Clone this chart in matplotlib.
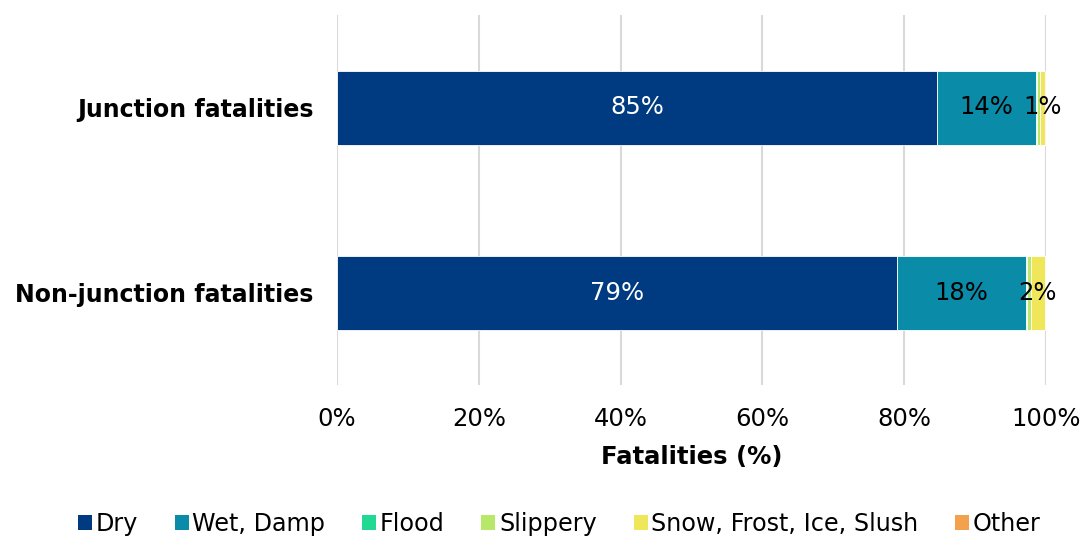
import matplotlib
matplotlib.use("Agg")
import matplotlib.pyplot as plt
from matplotlib.patches import Patch

categories = ["Junction fatalities", "Non-junction fatalities"]
series = ["Dry", "Wet, Damp", "Flood", "Slippery", "Snow, Frost, Ice, Slush", "Other"]
colors = ["#003A80", "#0A8BA8", "#22D994", "#B8E86A", "#F0E65A", "#F4A14E"]

dry = [84.6, 79.0]
wet = [14.0, 18.2]
flood = [0.1, 0.1]
slippery = [0.4, 0.6]
snow = [0.7, 1.9]
other = [0.2, 0.2]
values = [dry, wet, flood, slippery, snow, other]

# text labels shown on the bars (series index, category index, text)
labels = [(0, 0, "85%"), (1, 0, "14%"), (4, 0, "1%"),
          (0, 1, "79%"), (1, 1, "18%"), (4, 1, "2%")]

plt.rcParams["font.family"] = ["DejaVu Sans"]

fig = plt.figure(figsize=(10.86, 5.39), dpi=100)
ax = fig.add_axes([337 / 1086, 1 - 385 / 539, 709 / 1086, 370 / 539])

ypos = list(range(len(categories)))
left = [0.0] * len(categories)
rects = []
for vals, col in zip(values, colors):
    bars = ax.barh(ypos, vals, left=left, height=0.4, color=col,
                   edgecolor="white", linewidth=0.6, zorder=3)
    rects.append(bars)
    left = [l + v for l, v in zip(left, vals)]

for si, ci, txt in labels:
    r = rects[si][ci]
    cx = r.get_x() + r.get_width() / 2
    col = "white" if si == 0 else "black"
    ax.text(cx, r.get_y() + r.get_height() / 2, txt, ha="center", va="center",
            fontsize=17.5, color=col, zorder=4)

ax.set_xlim(0, 100)
ax.set_ylim(1.5, -0.5)
ax.set_xticks(range(0, 101, 20))
ax.set_xticklabels([f"{t}%" for t in range(0, 101, 20)], fontsize=17.5)
ax.set_yticks(ypos)
ax.set_yticklabels(categories, fontsize=17, fontweight="bold")
ax.tick_params(axis="both", length=0)
ax.tick_params(axis="x", pad=16)
ax.tick_params(axis="y", pad=17)
ax.grid(axis="x", color="#D9D9D9", linewidth=1.5, zorder=0)
for s in ax.spines.values():
    s.set_visible(False)
ax.set_xlabel("Fatalities (%)", fontsize=17.5, fontweight="bold", labelpad=10)

handles = [Patch(facecolor=c, label=s) for s, c in zip(series, colors)]
fig.legend(handles=handles, loc="center", bbox_to_anchor=(0.515, 1 - 524 / 539),
           ncol=6, frameon=False, fontsize=17.2, handlelength=0.58, handleheight=0.58,
           handletextpad=0.15, columnspacing=1.55)

fig.savefig("out.png", dpi=100)
